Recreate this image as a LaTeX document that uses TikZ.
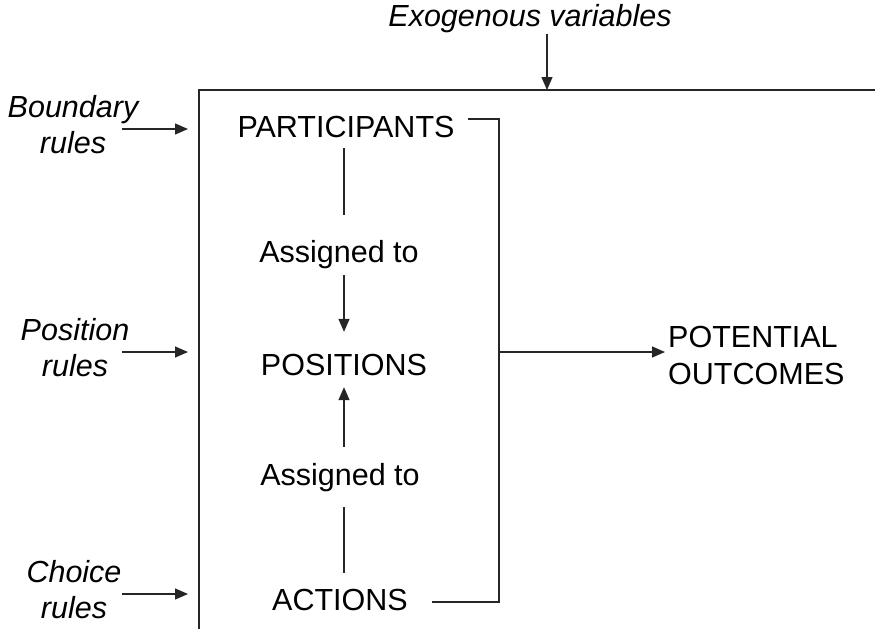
\documentclass[tikz,border=0pt]{standalone}
\usepackage{fontspec}
\setmainfont{Liberation Sans}
\usetikzlibrary{arrows.meta}
\begin{document}
\begin{tikzpicture}[x=1pt,y=-1pt]
\tikzset{
  rulelabel/.style={font=\fontsize{30.5}{36}\selectfont\itshape, align=center, inner sep=0pt, anchor=north},
  core/.style={font=\fontsize{30.5}{36}\selectfont, inner sep=0pt, anchor=base, text height=22pt, text depth=6.5pt},
  wire/.style={draw=black!85, line width=1.3pt},
  arr/.style={wire, -{Triangle[length=13pt,width=11pt]}},
}
\useasboundingbox (0,0) rectangle (875,629);

% the action arena frame
\draw[wire] (875,90) -- (199,90) -- (199,629);

% exogenous variables entering from above
\node[rulelabel, anchor=base] (exo) at (530,27) {Exogenous variables};
\coordinate (exoin) at (547,90);
\draw[arr] (exo.south -| exoin) -- (exoin);

% rule labels on the left with their inputs
\node[rulelabel] (bnd) at (73,95.5) {Boundary\\rules};
\coordinate (bndfrom) at (122,129);
\coordinate (bndto) at (188,129);
\draw[arr] (bndfrom) -- (bndto);

\node[rulelabel] (posr) at (75,318) {Position\\rules};
\coordinate (posfrom) at (122,352);
\coordinate (posto) at (188,352);
\draw[arr] (posfrom) -- (posto);

\node[rulelabel] (cho) at (74,560) {Choice\\rules};
\coordinate (chofrom) at (122,594);
\coordinate (choto) at (188,594);
\draw[arr] (chofrom) -- (choto);

% central column
\node[core] (part) at (346,137) {PARTICIPANTS};
\node[core] (as1) at (339,262) {Assigned to};
\node[core] (pos) at (344,375) {POSITIONS};
\node[core] (as2) at (340,485) {Assigned to};
\node[core] (act) at (340,610) {ACTIONS};

\draw[wire, shorten <=4.5pt, shorten >=25pt] (part.south -| pos) -- (as1.north -| pos);
\draw[arr, shorten <=6.5pt, shorten >=21pt] (as1.south -| pos) -- (pos.north -| pos);
\draw[arr, shorten <=16pt, shorten >=5.5pt] (as2.north -| pos) -- (pos.south -| pos);
\draw[wire, shorten <=15.5pt, shorten >=15pt] (as2.south -| pos) -- (act.north -| pos);

% outcomes
\node[font=\fontsize{30.5}{37}\selectfont, align=left, inner sep=0pt, anchor=west] (outc) at (668,355.6) {POTENTIAL\\OUTCOMES};

% bracket gathering the arena into outcomes
\coordinate (brtop) at (499,119);
\coordinate (brmid) at (499,352);
\coordinate (brbot) at (499,602);
\path (part.east |- brtop) ++(13,0) coordinate (ptail);
\path (act.east |- brbot) ++(24,0) coordinate (atail);
\draw[wire] (ptail) -- (brtop) -- (brbot) -- (atail);
\draw[arr, shorten >=3pt] (brmid) -- (outc.west |- brmid);
\end{tikzpicture}
\end{document}
